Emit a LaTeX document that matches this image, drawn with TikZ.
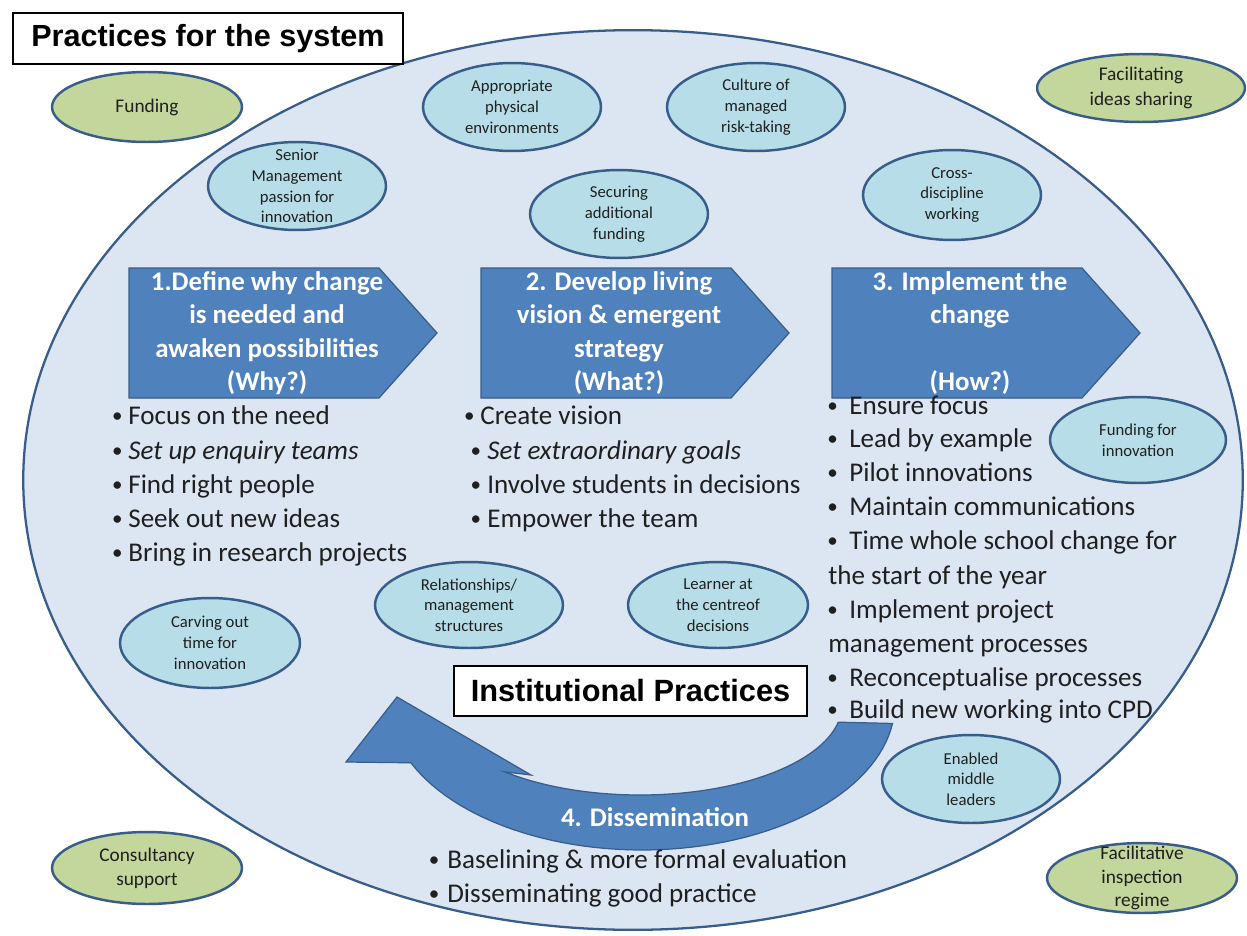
\documentclass[tikz,border=0pt]{standalone}
\usepackage{fontspec}
\setmainfont{Carlito}
\newfontfamily\headfont{Liberation Sans}
\usetikzlibrary{shapes.geometric}

\definecolor{bgblue}{HTML}{DCE6F2}
\definecolor{edge}{HTML}{385D8A}
\definecolor{ltblue}{HTML}{B7DEE8}
\definecolor{olive}{HTML}{C3D69B}
\definecolor{arrowblue}{HTML}{4F81BD}
\definecolor{ink}{HTML}{1F1F1F}

% small bullet hanging to the left of the item text
\newcommand\bul[1]{\llap{\raisebox{0.08em}{\fontsize{12pt}{12pt}\selectfont\textbullet}\kern#1}}

\tikzset{
  rad/.style n args={2}{minimum width=#1*0.04cm, minimum height=#2*0.04cm},
  bubble/.style={ellipse, draw=edge, line width=1.4pt, inner sep=0pt},
  innerbub/.style={bubble, fill=ltblue},
  outerbub/.style={bubble, fill=olive},
  itxt/.style={align=center, inner sep=0pt, text=ink, font=\fontsize{9.5pt}{11.8pt}\selectfont},
  otxt/.style={align=center, inner sep=0pt, text=ink, font=\fontsize{11pt}{13.6pt}\selectfont},
  chev/.style={fill=arrowblue, draw=edge, line width=0.7pt},
  chevtxt/.style={align=center, text=white, inner sep=0pt, font=\bfseries\fontsize{15.3pt}{19pt}\selectfont},
  item/.style={anchor=west, inner sep=0pt, text=ink, text height=11pt, text depth=3.3pt, font=\fontsize{15.4pt}{19pt}\selectfont},
  headbox/.style={draw=black, fill=white, line width=1pt, inner sep=0pt, font=\headfont\bfseries\fontsize{17.4pt}{20pt}\selectfont},
}

\begin{document}
\begin{tikzpicture}[x=0.02cm, y=-0.02cm]
\useasboundingbox (0,0) rectangle (1247,936);

% the institution
\node[ellipse, draw=edge, fill=bgblue, line width=1.3pt, rad={610}{450}] (field) at (633,480) {};

% practices outside the institution
\node[outerbub, rad={95}{35}] (fund) at (147,107) {};
\node[otxt] (fund-t) at (fund) {Funding};
\node[outerbub, rad={104}{34}] (share) at (1141,88) {};
\node[otxt, font=\fontsize{11pt}{14.6pt}\selectfont] (share-t) at (share) {Facilitating\\ideas sharing};
\node[outerbub, rad={95}{36}] (consult) at (147,868) {};
\node[otxt] (consult-t) at (consult) {Consultancy\\support};
\node[outerbub, rad={95}{35}] (inspect) at (1142,878) {};
\node[otxt, font=\fontsize{11pt}{13.4pt}\selectfont] (inspect-t) at (inspect) {Facilitative\\inspection\\regime};

% practices inside the institution
\node[innerbub, rad={89}{44}] (senior) at (297,186) {};
\node[itxt] (senior-t) at (senior) {Senior\\Management\\passion for\\innovation};
\node[innerbub, rad={89}{44}] (phys) at (512,107) {};
\node[itxt] (phys-t) at (phys) {Appropriate\\physical\\environments};
\node[innerbub, rad={89}{44}] (risk) at (756,107) {};
\node[itxt] (risk-t) at (risk) {Culture of\\managed\\risk-taking};
\node[innerbub, rad={89}{44}] (secure) at (619,214) {};
\node[itxt] (secure-t) at (secure) {Securing\\additional\\funding};
\node[innerbub, rad={89}{45}] (cross) at (952,195) {};
\node[itxt] (cross-t) at (cross) {Cross-\\discipline\\working};
\node[innerbub, rad={88}{43}] (innov) at (1138,440) {};
\node[itxt] (innov-t) at (innov) {Funding for\\innovation};
\node[innerbub, rad={89}{44}] (middle) at (971,779) {};
\node[itxt] (middle-t) at (middle) {Enabled\\middle\\leaders};
\node[innerbub, rad={94}{43}] (relat) at (469,605) {};
\node[itxt] (relat-t) at (relat) {Relationships/\\management\\structures};
\node[innerbub, rad={90}{43}] (learner) at (718,605) {};
\node[itxt] (learner-t) at (learner) {Learner at\\the centreof\\decisions};
\node[innerbub, rad={90}{45}] (carve) at (210,643) {};
\node[itxt] (carve-t) at (carve) {Carving out\\time for\\innovation};

% the three stage arrows
\path[chev] (129,268) -- ++(250,0) -- ++(58,65) -- ++(-58,65) -- ++(-250,0) -- cycle;
\path[chev] (481,268) -- ++(250,0) -- ++(58,65) -- ++(-58,65) -- ++(-250,0) -- cycle;
\path[chev] (832,268) -- ++(250,0) -- ++(58,65) -- ++(-58,65) -- ++(-250,0) -- cycle;
\node[chevtxt] (s1) at (267,333) {1.Define why change\\is needed and\\awaken possibilities\\(Why?)};
\node[chevtxt] (s2) at (619,333) {2. Develop living\\vision \& emergent\\strategy\\(What?)};
\node[chevtxt] (s3) at (970,333) {3. Implement the\\change\\\mbox{}\\(How?)};

% the curved dissemination arrow
\path[chev] plot[domain=8:156, samples=60] ({642+253*cos(\x)},{703+147*sin(\x)})
  -- (346,762) -- (397,697) -- (531,775)
  -- plot[domain=132:11, samples=60] ({640+202*cos(\x)},{705+90*sin(\x)}) -- cycle;
\node[chevtxt] (s4) at (655,817) {4. Dissemination};

% stage 1 items
\node[item] (a1) at (128,418) {\bul{3.2pt}Focus on the need};
\node[item] (a2) at (128,453) {\bul{3.2pt}\textit{Set up enquiry teams}};
\node[item] (a3) at (128,487) {\bul{3.2pt}Find right people};
\node[item] (a4) at (128,521) {\bul{3.2pt}Seek out new ideas};
\node[item] (a5) at (128,555) {\bul{3.2pt}Bring in research projects};

% stage 2 items
\node[item] (b1) at (480,418) {\bul{3.2pt}Create vision};
\node[item] (b2) at (487,453) {\bul{3.6pt}\textit{Set extraordinary goals}};
\node[item] (b3) at (487,487) {\bul{3.6pt}Involve students in decisions};
\node[item] (b4) at (487,521) {\bul{3.6pt}Empower the team};

% stage 3 items
\node[item] (c1) at (849,408) {\bul{6.5pt}Ensure focus};
\node[item] (c2) at (849,441) {\bul{6.5pt}Lead by example};
\node[item] (c3) at (849,475) {\bul{6.5pt}Pilot innovations};
\node[item] (c4) at (849,509) {\bul{6.5pt}Maintain communications};
\node[item] (c5) at (849,543) {\bul{6.5pt}Time whole school change for};
\node[item] (c6) at (828,578) {the start of the year};
\node[item] (c7) at (849,612) {\bul{6.5pt}Implement project};
\node[item] (c8) at (828,646) {management processes};
\node[item] (c9) at (849,680) {\bul{6.5pt}Reconceptualise processes};
\node[item] (c10) at (849,712) {\bul{6.5pt}Build new working into CPD};

% stage 4 items
\node[item] (d1) at (447,862) {\bul{4.5pt}Baselining \& more formal evaluation};
\node[item] (d2) at (447,896) {\bul{4.5pt}Disseminating good practice};

% headings
\node[headbox, minimum width=390*0.02cm, minimum height=51*0.02cm] (title) at (208,38.5) {Practices for the system};
\node[headbox, line width=0.8pt, minimum width=353*0.02cm, minimum height=50*0.02cm, font=\headfont\bfseries\fontsize{17.5pt}{20pt}\selectfont] (inst) at (630.5,691) {Institutional Practices};
\end{tikzpicture}
\end{document}
